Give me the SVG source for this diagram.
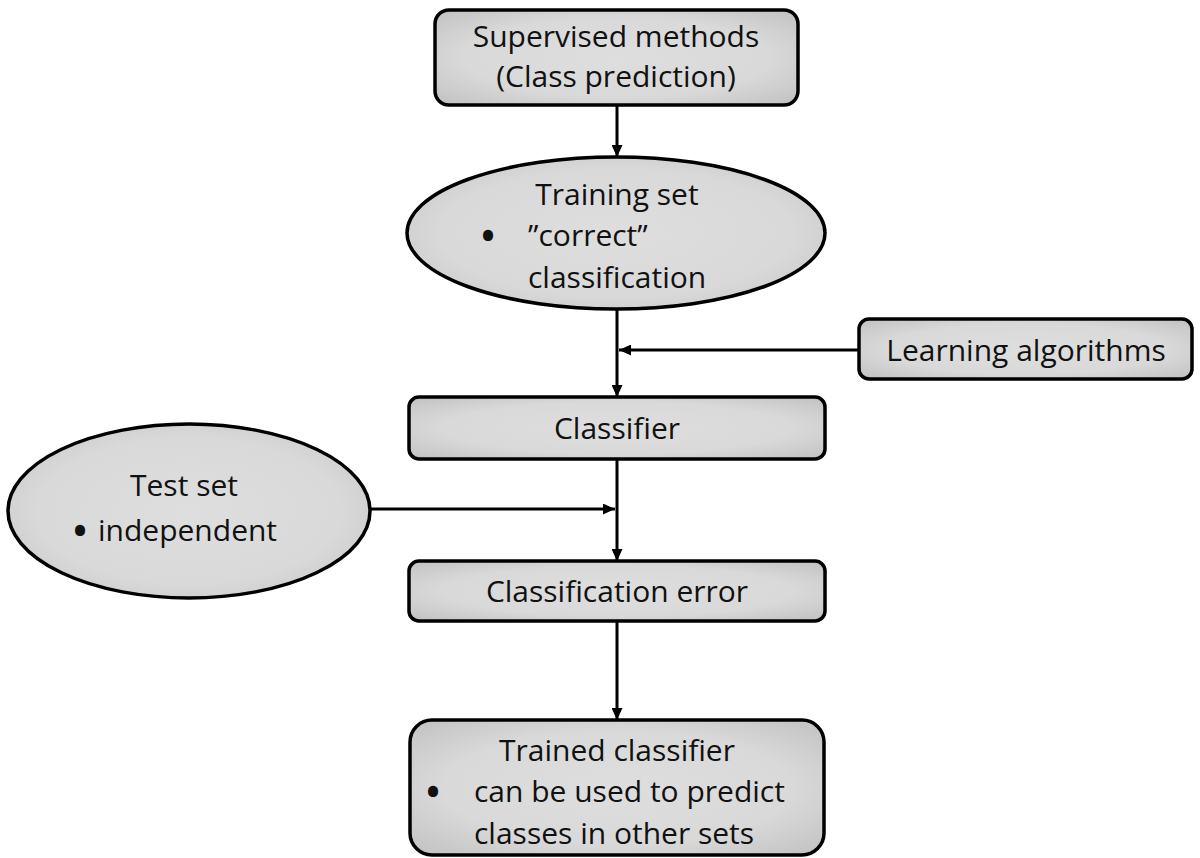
<svg xmlns="http://www.w3.org/2000/svg" width="1200" height="858" viewBox="0 0 1200 858">
  <style>
    .node { fill: url(#soft); stroke: #000; stroke-width: 3.5; }
    .edge { stroke: #000; stroke-width: 3; fill: none; marker-end: url(#head); }
    text { font-family: "Open Sans", "Liberation Sans", sans-serif; font-size: 30px; fill: #111; }
    .c { text-anchor: middle; }
    .b { text-anchor: middle; font-size: 36px; font-weight: bold; }
  </style>
  <defs>
    <radialGradient id="soft" cx="0.5" cy="0.5" r="0.7">
      <stop offset="0" stop-color="#dedede"/>
      <stop offset="0.6" stop-color="#d9d9d9"/>
      <stop offset="0.95" stop-color="#c4c4c4"/>
      <stop offset="1" stop-color="#a8a8a8"/>
    </radialGradient>
    <marker id="head" viewBox="0 0 12 11" refX="12" refY="5.5" markerUnits="userSpaceOnUse" markerWidth="12" markerHeight="11" orient="auto">
      <path d="M0,0 L12,5.5 L0,11 z" fill="#000"/>
    </marker>
  </defs>
  <rect width="1200" height="858" fill="#fff"/>

  <g id="connectors">
    <line class="edge" x1="617" y1="105" x2="617" y2="157"/>
    <line class="edge" x1="617" y1="309" x2="617" y2="397"/>
    <line class="edge" x1="859" y1="350" x2="619" y2="350"/>
    <line class="edge" x1="617" y1="459" x2="617" y2="561"/>
    <line class="edge" x1="370" y1="509" x2="615" y2="509"/>
    <line class="edge" x1="617" y1="621" x2="617" y2="720"/>
  </g>

  <g id="supervised">
    <rect class="node" x="435" y="10" width="363" height="95" rx="14"/>
    <text class="c" x="616" y="47">Supervised methods</text>
    <text class="c" x="616" y="87">(Class prediction)</text>
  </g>

  <g id="training-set">
    <ellipse class="node" cx="616" cy="233" rx="209" ry="76"/>
    <text class="c" x="617" y="205">Training set</text>
    <text class="b" x="488" y="249">•</text>
    <text x="528" y="246">”correct”</text>
    <text x="528" y="288">classification</text>
  </g>

  <g id="learning">
    <rect class="node" x="859" y="319" width="333" height="60" rx="10"/>
    <text class="c" x="1026" y="361">Learning algorithms</text>
  </g>

  <g id="classifier">
    <rect class="node" x="409" y="397" width="416" height="62" rx="10"/>
    <text class="c" x="617" y="439">Classifier</text>
  </g>

  <g id="test-set">
    <ellipse class="node" cx="189" cy="511" rx="181" ry="87"/>
    <text class="c" x="184" y="496">Test set</text>
    <text class="b" x="80" y="544">•</text>
    <text x="98" y="541">independent</text>
  </g>

  <g id="classification-error">
    <rect class="node" x="409" y="561" width="416" height="60" rx="10"/>
    <text class="c" x="617" y="602">Classification error</text>
  </g>

  <g id="trained">
    <rect class="node" x="410" y="720" width="414" height="135" rx="22"/>
    <text class="c" x="617" y="761">Trained classifier</text>
    <text class="b" x="433" y="805">•</text>
    <text x="474" y="802">can be used to predict</text>
    <text x="474" y="844">classes in other sets</text>
  </g>
</svg>
